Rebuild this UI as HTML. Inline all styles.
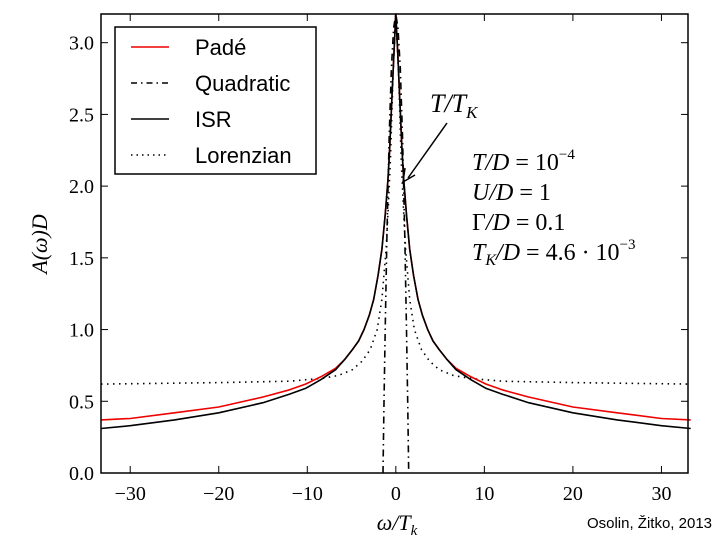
<!DOCTYPE html>
<html><head><meta charset="utf-8"><style>
body{margin:0;background:#fff;width:720px;height:540px;overflow:hidden}
svg text{font-family:"Liberation Serif",serif}
</style></head><body>
<svg id="c" width="720" height="540" xmlns="http://www.w3.org/2000/svg">
<g id="plot"></g>
<rect x="101" y="14" width="587" height="459" fill="none" stroke="#000" stroke-width="1.5"/>
<g id="axes"></g>
<g>
<rect x="115" y="27" width="201" height="147" fill="#fff" stroke="#000" stroke-width="1.5"/>
<line x1="131" y1="47" x2="169" y2="47" stroke="#e00" stroke-width="1.5"/>
<text x="195" y="55" style="font-family:'Liberation Sans',sans-serif" font-size="22">Padé</text>
<line x1="131" y1="83" x2="169" y2="83" stroke="#000" stroke-width="1.5" stroke-dasharray="6,4,1.5,4"/>
<text x="195" y="91" style="font-family:'Liberation Sans',sans-serif" font-size="22">Quadratic</text>
<line x1="131" y1="119" x2="169" y2="119" stroke="#000" stroke-width="1.5"/>
<text x="195" y="127" style="font-family:'Liberation Sans',sans-serif" font-size="22">ISR</text>
<line x1="131" y1="155" x2="169" y2="155" stroke="#000" stroke-width="1.5" stroke-dasharray="1.5,4"/>
<text x="195" y="163" style="font-family:'Liberation Sans',sans-serif" font-size="22">Lorenzian</text>
</g>
<text x="430" y="112" font-size="26" font-style="italic">T/T<tspan font-size="17" dy="6">K</tspan></text>
<line x1="447" y1="123" x2="408" y2="178" stroke="#000" stroke-width="1.5"/>
<polyline points="405,168 403,182 415,175" fill="none" stroke="#000" stroke-width="1.5"/>
<g font-size="24">
<text x="472" y="170"><tspan font-style="italic">T/D</tspan> = 10<tspan font-size="15" dy="-11">−4</tspan></text>
<text x="472" y="200"><tspan font-style="italic">U/D</tspan> = 1</text>
<text x="472" y="230">Γ<tspan font-style="italic">/D</tspan> = 0.1</text>
<text x="472" y="260"><tspan font-style="italic">T<tspan font-size="16" dy="5">K</tspan><tspan dy="-5">/D</tspan></tspan> = 4.6 · 10<tspan font-size="15" dy="-11">−3</tspan></text>
</g>
<text x="0" y="0" transform="translate(47,244) rotate(-90)" text-anchor="middle" font-size="22" font-style="italic">A(ω)D</text>
<text x="397" y="530" text-anchor="middle" font-size="22" font-style="italic">ω/T<tspan font-size="15" dy="5">k</tspan></text>
<text x="712" y="528" text-anchor="end" font-size="15" style="font-family:'Liberation Sans',sans-serif">Osolin, Žitko, 2013</text>
</svg>
<script>
const xTicks=[-30,-20,-10,0,10,20,30];
const yTicks=[0.0,0.5,1.0,1.5,2.0,2.5,3.0];
const isrX=[0,0.2,0.45,0.7,0.9,1.2,1.57,2,2.5,3,3.6,4.2,4.9,5.8,6.8,8.5,10.2,12,15,20,25,30,33.3];
const isrY=[3.2,2.95,2.6,2.25,2.04,1.8,1.56,1.38,1.21,1.1,1.0,0.92,0.86,0.79,0.72,0.65,0.59,0.55,0.49,0.42,0.37,0.33,0.31];
const padeX=[0,0.2,0.45,0.7,0.9,1.2,1.57,2,2.5,3,3.6,4.2,4.9,5.8,6.8,8.5,10.2,12,15,20,25,30,33.3];
const padeY=[3.2,2.95,2.6,2.25,2.04,1.8,1.56,1.38,1.21,1.1,1.0,0.92,0.86,0.79,0.73,0.67,0.62,0.58,0.53,0.46,0.42,0.38,0.37];
const lorX=[0,0.3,0.6,0.85,1.1,1.57,2.1,2.9,3.8,4.9,6.5,8.3,12,20,33.3];
const lorY=[3.2,2.8,2.2,1.85,1.56,1.21,1.0,0.86,0.78,0.72,0.68,0.66,0.64,0.63,0.62];
const quadX=[0,0.25,0.5,0.75,1,1.2,1.35,1.45];
const quadY=[3.2,3.1,2.82,2.35,1.68,1.0,0.45,0];
const X0=-33.3,X1=33.0,Y0=0,Y1=3.2;
const L=101,R=688,T=14,B=473;
function sx(v){return L+(v-X0)/(X1-X0)*(R-L);}
function sy(v){return B-(v-Y0)/(Y1-Y0)*(B-T);}
const NS='http://www.w3.org/2000/svg';
const plot=document.getElementById('plot'),axes=document.getElementById('axes');
function mk(t,a,p){const e=document.createElementNS(NS,t);for(const k in a)e.setAttribute(k,a[k]);p.appendChild(e);return e;}
function sym(xs,ys){const px=[],py=[];for(let i=xs.length-1;i>0;i--){px.push(-xs[i]);py.push(ys[i]);}for(let i=0;i<xs.length;i++){px.push(xs[i]);py.push(ys[i]);}return px.map((x,i)=>sx(x).toFixed(1)+','+sy(py[i]).toFixed(1)).join(' ');}
function curve(xs,ys,col,dash,name){const e=mk('polyline',{points:sym(xs,ys),fill:'none',stroke:col,'stroke-width':1.6,'stroke-dasharray':dash,'stroke-linejoin':'round'},plot);

}
curve(lorX,lorY,'#000','1.5,4.5','lorenzian-curve');
curve(padeX,padeY,'#e00','none','pade-curve');
curve(isrX,isrY,'#000','none','isr-curve');
curve(quadX,quadY,'#000','7,4,1.5,4','quadratic-curve');
xTicks.forEach(v=>{const x=sx(v);
mk('line',{x1:x,y1:B,x2:x,y2:B-7,stroke:'#000'},axes);mk('line',{x1:x,y1:T,x2:x,y2:T+7,stroke:'#000'},axes);
const t=mk('text',{x:x,y:500,'text-anchor':'middle','font-size':20},axes);t.textContent=(v<0?'−':'')+Math.abs(v);

});
yTicks.forEach(v=>{const y=sy(v);
mk('line',{x1:L,y1:y,x2:L+7,y2:y,stroke:'#000'},axes);mk('line',{x1:R,y1:y,x2:R-7,y2:y,stroke:'#000'},axes);
const t=mk('text',{x:94,y:y+7,'text-anchor':'end','font-size':20},axes);t.textContent=v.toFixed(1);

});
</script>
</body></html>
